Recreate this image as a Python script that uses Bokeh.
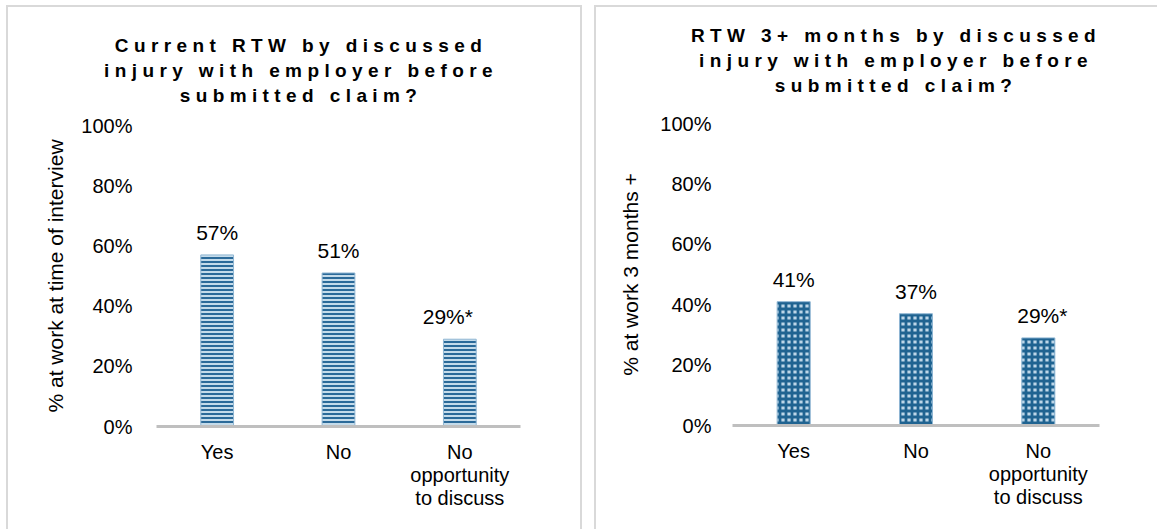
from bokeh.plotting import figure
from bokeh.models import (ColumnDataSource, LabelSet, NumeralTickFormatter, FixedTicker, Div)
from bokeh.core.properties import value
from bokeh.layouts import row, column
from bokeh.embed import file_html
from bokeh.resources import INLINE

# ---------------- data ----------------
categories = ["Yes", "No", "No\nopportunity\nto discuss"]
current_rtw = [0.57, 0.51, 0.29]
current_labels = ["57%", "51%", "29%*"]
rtw_3plus = [0.41, 0.37, 0.29]
rtw_3plus_labels = ["41%", "37%", "29%*"]
y_ticks = [0, 0.2, 0.4, 0.6, 0.8, 1.0]

title_left = ["Current RTW by discussed", "injury with employer before", "submitted claim?"]
title_right = ["RTW 3+ months by discussed", "injury with employer before", "submitted claim?"]
ylabel_left = "% at work at time of interview"
ylabel_right = "% at work 3 months +"

FONT = "Liberation Sans"
BORDER = "2px solid #d9d9d9"


def make_title(lines, width, pad_top, pad_left):
    html = ('<div style="width:%dpx;height:100px;box-sizing:border-box;padding-top:%dpx;'
            'padding-left:%dpx;text-align:center;font-family:\'Liberation Sans\',Arial,sans-serif;'
            'font-weight:bold;font-size:19px;letter-spacing:5.4px;line-height:25px;color:#000;'
            'white-space:nowrap;">%s</div>') % (width, pad_top, pad_left, "<br>".join(lines))
    return Div(text=html, width=width, height=100, margin=(0, 0, 0, 0))


def make_chart(values, labels, ylabel, hatch, width, mleft, mright, mtop, mbottom,
               ylabel_standoff, tick_standoff, label_dx):
    p = figure(x_range=categories, y_range=(0, 1), width=width, height=422,
               output_backend="svg", toolbar_location=None,
               min_border_left=mleft, min_border_right=mright,
               min_border_top=mtop, min_border_bottom=mbottom,
               background_fill_color="white", border_fill_color="white",
               outline_line_color=None, margin=(0, 0, 0, 0))
    src = ColumnDataSource(dict(x=categories, top=values, label=labels, dx=label_dx))
    p.vbar(x="x", top="top", width=0.27, source=src,
           fill_color=hatch["fill"], line_color="#8fb6d3", line_width=1,
           hatch_pattern=hatch["pattern"], hatch_color=hatch["color"],
           hatch_scale=hatch["scale"], hatch_weight=hatch["weight"], hatch_alpha=1.0)
    p.add_layout(LabelSet(x="x", y="top", text="label", source=src, x_offset="dx", y_offset=15,
                          text_align="center", text_baseline="alphabetic",
                          text_font=value(FONT), text_font_size="21px", text_color="#000000"))
    p.xgrid.visible = False
    p.ygrid.visible = False

    xa = p.xaxis[0]
    xa.axis_line_color = "#bfbfbf"
    xa.axis_line_width = 3
    xa.major_tick_line_color = None
    xa.minor_tick_line_color = None
    xa.major_label_standoff = 8
    xa.major_label_text_font = FONT
    xa.major_label_text_font_size = "20px"
    xa.major_label_text_color = "#000000"
    xa.major_label_text_line_height = 1.05

    ya = p.yaxis[0]
    ya.ticker = FixedTicker(ticks=y_ticks)
    ya.formatter = NumeralTickFormatter(format="0%")
    ya.axis_line_color = None
    ya.major_tick_line_color = None
    ya.minor_tick_line_color = None
    ya.major_label_standoff = tick_standoff
    ya.major_label_text_font = FONT
    ya.major_label_text_font_size = "20px"
    ya.major_label_text_color = "#000000"
    ya.axis_label = ylabel
    ya.axis_label_text_font = FONT
    ya.axis_label_text_font_size = "21px"
    ya.axis_label_text_font_style = "normal"
    ya.axis_label_text_color = "#000000"
    ya.axis_label_standoff = ylabel_standoff
    return p


stripes = dict(fill="#c4dbea", pattern="horizontal_line", color="#2b6a99", scale=4, weight=2)
checker = dict(fill="#bdd6e8", pattern="cross", color="#1f6391", scale=6, weight=2.8)

left_chart = make_chart(current_rtw, current_labels, ylabel_left, stripes, 572,
                        148, 60, 18, 103, 11, 18, [0, 0, -12])
right_chart = make_chart(rtw_3plus, rtw_3plus_labels, ylabel_right, checker, 561,
                         136, 58, 16, 104, 15, 15, [0, 0, 4])

left_panel = column(make_title(title_left, 572, 26, 14), left_chart, spacing=0,
                    styles={"border-top": BORDER, "border-left": BORDER, "border-right": BORDER})
right_panel = column(make_title(title_right, 561, 16, 39), right_chart, spacing=0,
                     styles={"border-top": BORDER, "border-left": BORDER})

page = row(left_panel, right_panel, spacing=12, margin=(5, 0, 0, 6))

open("out.html", "w").write(file_html(page, INLINE))
